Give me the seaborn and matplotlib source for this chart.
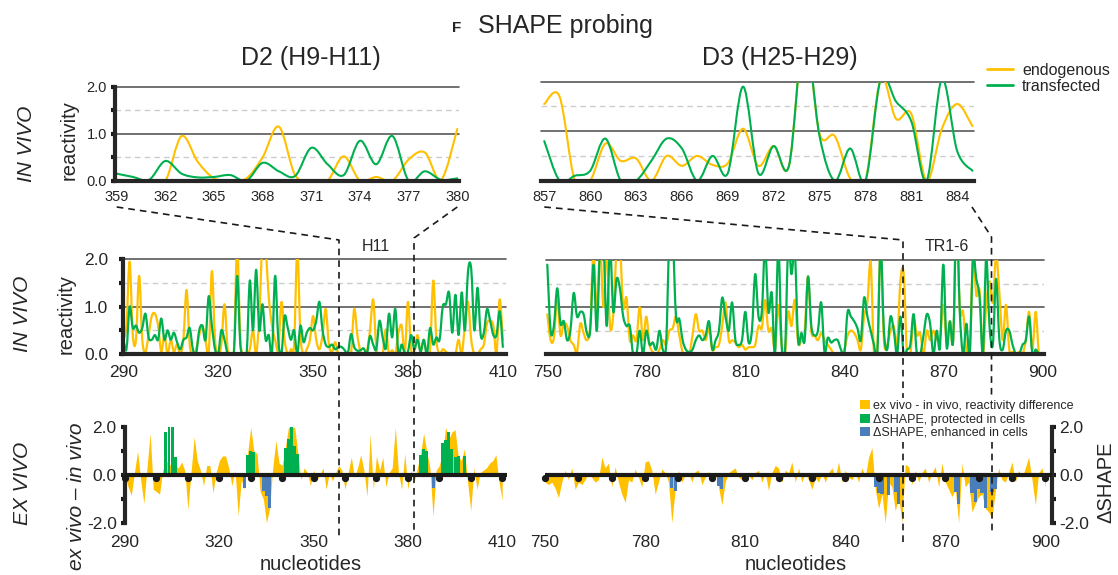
import numpy as np
import pandas as pd
import seaborn as sns
import matplotlib
matplotlib.use("Agg")
import matplotlib.pyplot as plt
from matplotlib.path import Path
from matplotlib.patches import PathPatch, Patch
from matplotlib.lines import Line2D
import matplotlib.transforms as mtrans

# ---------------- data ----------------
d2_nt = list(range(290, 411))
d2_endogenous = [
    0.3, 0.6, 1.95, 0.4, 0.3, 1.65, 0.3, 0.05, 0.4, 0.8,
    0.85, 0.6, 0.05, 0.4, 0.0, 0.3, 0.05, 0.2, 0.0, 0.3,
    1.35, 0.2, 0.0, 0.1, 0.4, 0.6, 0.3, 0.0, 1.75, 0.3,
    0.0, 0.2, 1.05, 0.1, 0.0, 0.1, 2.3, 0.3, 0.0, 0.0,
    0.1, 0.5, 0.0, 0.8, 2.4, 2.2, 1.2, 0.6, 0.3, 0.1,
    1.1, 0.3, 0.0, 0.1, 0.2, 2.2, 0.4, 0.0, 0.1, 0.3,
    0.8, 0.3, 0.1, 0.4, 0.95, 0.2, 0.05, 0.25, 0.0,
    0.02, 0.0, 0.0, 0.0, 0.95, 0.4, 0.05, 0.0, 0.05, 0.5, 1.15,
    0.12, 0.0, 0.0, 0.52, 0.0, 0.08, 0.0, 0.45, 0.6, 0.02, 1.1,
    0.1, 0.05, 0.4, 0.05, 0.3, 0.0, 0.1, 1.55, 0.3, 0.0,
    0.1, 0.05, 0.0, 0.0, 0.0, 0.3, 0.0, 0.6, 1.1, 0.3,
    0.0, 0.0, 0.1, 0.2, 0.65, 0.7, 0.6, 0.0, 1.15, 0.3,
]
d2_transfected = [
    0.3, 0.1, 1.0, 0.55, 0.6, 0.45, 0.55, 0.85, 0.35, 0.3,
    0.4, 0.3, 0.75, 0.3, 0.5, 0.3, 0.45, 0.25, 0.1, 0.3,
    0.35, 0.55, 0.1, 0.0, 0.5, 0.6, 0.3, 1.22, 0.6, 0.1,
    0.0, 0.5, 0.3, 0.0, 0.0, 0.05, 1.65, 0.2, 0.0, 0.0,
    1.55, 0.5, 1.78, 0.5, 1.05, 0.3, 0.4, 0.0, 1.65, 0.3,
    0.0, 0.8, 0.55, 0.3, 0.5, 0.0, 0.6, 0.25, 0.45, 0.55,
    0.5, 0.7, 1.1, 0.5, 0.2, 0.15, 0.2, 0.1, 0.15,
    0.15, 0.08, 0.02, 0.42, 0.15, 0.07, 0.08, 0.12, 0.0, 0.38, 0.2,
    0.1, 0.7, 0.35, 0.12, 0.85, 0.35, 0.95, 0.0, 0.2, 0.02, 0.05,
    0.4, 0.1, 0.3, 0.05, 0.3, 0.0, 0.55, 0.2, 0.35, 0.3,
    1.0, 1.05, 1.3, 0.45, 1.25, 0.4, 1.3, 0.5, 1.75, 1.8,
    0.5, 1.4, 0.4, 0.45, 0.95, 0.7, 0.4, 0.4, 0.9, 0.15,
]
d3_nt = list(range(750, 901))
d3_endogenous = [
    0.85, 0.3, 0.35, 1.15, 0.4, 0.65, 0.6, 0.3, 0.2, 0.05,
    0.65, 0.45, 0.3, 0.6, 2.2, 0.9, 2.3, 1.0, 2.2, 0.6,
    0.85, 2.2, 2.3, 1.0, 1.2, 0.3, 0.4, 0.3, 1.0, 0.3,
    0.8, 0.2, 0.05, 0.0, 0.1, 0.3, 0.2, 0.5, 0.55, 0.8,
    0.4, 0.05, 0.0, 0.0, 0.4, 0.85, 0.5, 0.5, 0.3, 0.55,
    0.1, 0.15, 0.2, 0.6, 1.1, 0.3, 0.3, 0.25, 0.15, 0.2,
    0.1, 0.15, 0.15, 0.2, 0.6, 0.55, 1.15, 0.5, 0.55, 0.1,
    1.05, 0.2, 0.0, 0.9, 0.6, 1.15, 0.25, 0.3, 0.5, 1.65,
    0.5, 0.4, 0.3, 0.45, 0.3, 0.2, 0.1, 0.0, 0.0, 0.0,
    0.1, 0.4, 0.5, 0.45, 0.3, 0.1, 0.8, 1.1, 1.95, 0.0,
    0.1, 2.3, 0.3, 0.2, 0.5, 0.6, 0.2,
    1.55, 1.7, 0.0, 0.0, 0.75, 0.4, 0.45, 0.0, 0.5, 0.3,
    0.5, 0.32, 0.35, 1.05, 0.3, 0.7, 0.3, 3.0, 0.95, 0.9,
    0.05, 0.0, 2.05, 1.25, 1.35, 0.0, 1.05, 1.55, 1.1,
    2.1, 1.3, 0.3, 1.05, 0.1, 0.05, 0.0, 0.05, 0.0, 0.3,
    0.9, 0.1, 0.9, 0.0, 0.0,
]
d3_transfected = [
    1.9, 0.5, 0.6, 1.4, 0.65, 0.7, 0.3, 0.5, 1.3, 0.8,
    0.9, 0.85, 0.45, 0.5, 1.9, 0.5, 2.3, 2.4, 0.6, 2.3,
    0.9, 1.6, 1.4, 0.8, 0.6, 0.6, 0.0, 0.0, 0.5, 0.0,
    0.5, 0.2, 0.25, 0.1, 0.5, 0.1, 0.2, 2.5, 2.5, 0.8,
    0.75, 0.3, 0.1, 0.05, 0.1, 0.3, 0.4, 0.3, 0.4, 0.7,
    0.1, 0.3, 0.5, 1.2, 0.8, 0.5, 1.1, 0.3, 0.2, 0.3,
    0.9, 0.25, 0.5, 1.7, 0.8, 0.9, 2.3, 0.9, 1.3, 0.0,
    2.3, 0.2, 0.0, 2.3, 1.7, 2.2, 0.3, 0.45, 0.3, 1.65,
    0.6, 0.4, 0.5, 1.1, 0.05, 0.35, 0.25, 0.3, 0.3, 0.1,
    0.0, 0.9, 0.8, 0.7, 0.55, 0.3, 1.2, 0.8, 0.5, 0.2,
    0.0, 2.3, 0.5, 0.1, 0.8, 0.5, 0.0,
    0.8, 0.0, 0.1, 0.2, 0.85, 0.0, 0.0, 0.4, 0.85, 0.65,
    0.0, 0.5, 0.15, 1.9, 0.15, 0.7, 0.3, 3.0, 0.9, 0.0,
    0.65, 0.0, 2.05, 1.6, 1.2, 0.0, 2.05, 0.6, 0.2,
    1.6, 0.3, 0.1, 0.5, 0.5, 0.2, 0.0, 0.0, 0.2, 0.3,
    0.8, 0.0, 0.1, 0.0, 0.0,
]
d2_diff = [
    0.0, -0.5, -0.85, 0.1, 1.0, -0.2, -1.2, 0.3, 1.75, -0.6,
    -0.7, -0.8, 0.2, 0.6, 0.5, 0.3, 0.4, 0.3, 0.55, 0.2,
    -1.45, 0.1, 1.6, 0.6, 0.2, -0.45, 0.4, 0.4, -0.75, 0.1,
    0.6, 0.8, 0.8, 0.3, -0.45, 0.2, -1.7, -0.2, -0.6, 0.9,
    2.0, 1.0, 0.9, -0.7, -1.0, -2.0, -1.4, 0.3, 1.45, 0.5,
    0.4, 1.15, 2.0, 2.0, 2.0, 0.9, -0.2, 0.3, 0.1, -0.45,
    0.2, -0.2, 0.0, 0.3, -0.6, 0.1, -0.25, 0.1, 0.4, 0.2,
    -0.6, 0.1, 0.75, -0.1, 0.3, 0.85, 0.2, -0.9, 1.7, -0.6,
    0.8, 0.2, 0.75, -0.5, 0.1, 0.3, 2.0, 0.1, -0.6, 0.9,
    -0.6, 0.2, -0.3, 0.3, 0.85, 1.75, 1.0, 0.3, -1.75, 0.2,
    0.4, 0.9, 2.0, 1.5, 1.8, 1.9, 0.8, 0.6, 1.1, -0.3,
    -1.5, 0.3, -0.6, 0.1, 0.2, 0.3, 0.5, 0.6, 0.85, -0.3, -1.05,
]
d3_diff = [
    -0.3, -0.4, -0.3, -0.55, -0.95, -0.3, 0.2, -0.2, 0.3, -0.6,
    -0.3, -0.4, -0.2, 0.1, -0.1, -0.3, -0.2, 0.75, 0.3, 0.5,
    -0.5, 0.35, -0.3, -0.8, -1.15, -0.2, -0.3, 0.25, -0.1, -0.5,
    0.55, 0.6, 0.2, -0.8, -0.3, 0.25, 0.1, -0.3, -2.0, -0.6,
    0.2, -0.3, 0.0, 0.1, -0.3, 0.15, 0.2, -0.4, -0.1, 0.15,
    -0.2, 0.1, -0.5, -1.25, -0.3, 0.1, 0.2, 0.3, -0.1, -0.2,
    0.1, 0.0, -0.2, 0.1, 0.2, -0.3, 0.1, -0.65, 0.1, 0.4,
    0.3, -0.3, 0.2, 0.1, 0.55, -0.3, 0.3, -0.3, 0.1, -0.2,
    -0.6, -0.1, -0.3, 0.1, -0.3, 0.1, 0.3, -0.1, 0.55, -0.3,
    0.2, -0.1, -0.2, 0.1, -0.3, 0.3, -0.1, 0.75, 1.15, -0.6,
    -1.4, -0.8, -2.0, -0.3, -0.5, -1.5, -0.9, -2.0, 0.45, 0.35,
    -0.4, 0.2, -0.3, 0.1, 0.3, -0.3, 0.1, 0.35, -0.5, 0.5,
    -0.3, -0.6, -0.9, -0.6, -2.0, 0.5, -0.5, -0.3, -1.55, -1.2,
    -0.9, -0.8, -1.4, -1.55, -1.8, -0.7, 0.3, -0.2, -0.3, 0.1,
    0.55, -0.3, 0.2, -0.1, 0.3, 0.75, -0.2, -1.25, 0.1, 0.3, -0.5,
]
d2_protected_nt = [303, 304, 305, 306, 329, 330, 331, 341, 342, 343, 344, 345,
                   384, 385, 386, 391, 392, 393, 394, 395, 396, 398]
d2_protected = [1.8, 2.0, 2.0, 0.75, 0.85, 1.0, 0.95, 1.15, 1.5, 2.0, 1.2, 0.9,
                0.85, 1.1, 1.0, 1.35, 1.45, 1.8, 1.1, 0.75, 0.8, 0.8]
d2_enhanced_nt = [328, 334, 335, 336, 388]
d2_enhanced = [-0.55, -0.65, -0.9, -1.4, -0.55]
d3_enhanced_nt = [788, 789, 802, 803, 849, 850, 851, 853, 855, 856,
                  873, 874, 878, 879, 880, 881, 882, 884, 885]
d3_enhanced = [-0.55, -0.65, -0.45, -0.6, -0.5, -0.75, -0.8, -0.85, -0.7, -1.2,
               -0.7, -1.2, -0.75, -1.15, -0.6, -0.75, -1.4, -0.7, -0.6]

d2_zoom = (359, 380)
d3_zoom = (857, 885)

legend_lines = ["endogenous", "transfected"]
legend_bars = ["ex vivo - in vivo, reactivity difference",
               "\u0394SHAPE, protected in cells",
               "\u0394SHAPE, enhanced in cells"]

# ---------------- style ----------------
YEL = "#FFC000"
GRN = "#00B050"
BLU = "#4A7EBB"

sns.set_theme(style="white")
plt.rcParams["font.family"] = ["Liberation Sans", "DejaVu Sans"]
plt.rcParams["axes.linewidth"] = 3

W, H = 1118, 575
fig = plt.figure(figsize=(W / 100, H / 100), dpi=100)


def fx(px):
    return px / W


def fy(py):
    return 1 - py / H


def rect(x0, x1, y_bottom, y_top):
    return [fx(x0), fy(y_bottom), (x1 - x0) / W, (y_bottom - y_top) / H]


def smooth_curve(ax, x, y, color, lw):
    x = np.asarray(x, float)
    y = np.asarray(y, float)
    n = len(x)
    verts = [(x[0], y[0])]
    codes = [Path.MOVETO]
    for i in range(n - 1):
        i0 = max(i - 1, 0)
        i3 = min(i + 2, n - 1)
        c1 = (x[i] + (x[i + 1] - x[i0]) / 6, y[i] + (y[i + 1] - y[i0]) / 6)
        c2 = (x[i + 1] - (x[i3] - x[i]) / 6, y[i + 1] - (y[i3] - y[i]) / 6)
        verts += [c1, c2, (x[i + 1], y[i + 1])]
        codes += [Path.CURVE4] * 3
    ax.add_patch(PathPatch(Path(verts, codes), facecolor="none", edgecolor=color,
                           lw=lw, joinstyle="round", capstyle="round", zorder=2))


def reactivity_grid(ax):
    for v in (1.0, 2.0):
        ax.axhline(v, color="#595959", lw=1.2, zorder=0.5, clip_on=False)
    for v in (0.5, 1.5):
        ax.axhline(v, color="#cccccc", lw=1.0, ls=(0, (4, 3)), zorder=0.5)


def react_panel(ax, nt, endo, trans, xlim, major, minor, lw, fs, left_axis, ypad):
    reactivity_grid(ax)
    smooth_curve(ax, nt, endo, YEL, lw)
    smooth_curve(ax, nt, trans, GRN, lw)
    ax.set_xlim(*xlim)
    ax.set_ylim(0, 2)
    for s in ("top", "right"):
        ax.spines[s].set_visible(False)
    ax.spines["bottom"].set_linewidth(3)
    ax.spines["bottom"].set_zorder(3)
    ax.set_xticks(major)
    ax.set_xticks(minor, minor=True)
    ax.set_xticklabels([str(v) for v in major])
    ax.tick_params(axis="x", which="both", direction="out", length=3, width=3,
                   color="k", labelsize=fs, pad=4 if fs < 11 else 5)
    if left_axis:
        ax.spines["left"].set_linewidth(3)
        ax.set_yticks([0, 1, 2])
        ax.set_yticks([0.5, 1.5], minor=True)
        ax.set_yticklabels(["0.0", "1.0", "2.0"])
        ax.tick_params(axis="y", which="both", direction="out", length=3, width=3,
                       color="k", labelsize=fs, pad=ypad, left=True)
    else:
        ax.spines["left"].set_visible(False)
        ax.tick_params(axis="y", which="both", left=False, labelleft=False)
    ax.set_xlabel("")
    ax.set_ylabel("")


# ----- top row (zoom-ins) -----
df2 = pd.DataFrame({"nt": d2_nt, "endo": d2_endogenous, "trans": d2_transfected})
df3 = pd.DataFrame({"nt": d3_nt, "endo": d3_endogenous, "trans": d3_transfected})
z2 = df2[(df2.nt >= d2_zoom[0]) & (df2.nt <= d2_zoom[1])]
z3 = df3[(df3.nt >= d3_zoom[0]) & (df3.nt <= d3_zoom[1])]

ax_tl = fig.add_axes(rect(115.1, 458.9, 180.7, 86.7))
react_panel(ax_tl, z2.nt, z2.endo, z2.trans, (358.9, 380.1),
            list(range(359, 381, 3)), list(range(359, 381)), 1.5, 10.5, True, 3)
ax_tr = fig.add_axes(rect(541.2, 974.0, 180.7, 81.7))
react_panel(ax_tr, z3.nt, z3.endo, z3.trans, (856.8, 885.1),
            list(range(857, 886, 3)), list(range(857, 886)), 1.5, 10.5, False, 3)

# ----- middle row -----
ax_ml = fig.add_axes(rect(123.3, 506.0, 354.0, 259.3))
react_panel(ax_ml, df2.nt, df2.endo, df2.trans, (290, 411),
            list(range(290, 411, 30)), list(range(290, 411, 10)), 1.6, 12.5, True, 8)
ax_mr = fig.add_axes(rect(545.65, 1043.95, 354.3, 260.0))
react_panel(ax_mr, df3.nt, df3.endo, df3.trans, (749.5, 900.5),
            list(range(750, 901, 30)), list(range(750, 901, 10)), 1.6, 12.5, False, 8)


# ----- bottom row -----
def diff_panel(ax, nt, diff, prot_nt, prot, enh_nt, enh, xlim, side):
    ax.fill_between(nt, 0, diff, color=YEL, lw=0, zorder=1)
    if prot_nt:
        sns.barplot(x=prot_nt, y=prot, native_scale=True, orient="x", color=GRN,
                    saturation=1, width=0.95, errorbar=None, linewidth=0,
                    zorder=2, ax=ax)
    if enh_nt:
        sns.barplot(x=enh_nt, y=enh, native_scale=True, orient="x", color=BLU,
                    saturation=1, width=0.95, errorbar=None, linewidth=0,
                    zorder=2, ax=ax)
    ax.axhline(0, color="k", lw=3, zorder=3, solid_capstyle="round")
    end = 901 if xlim[0] > 500 else 411
    ticks = list(range(xlim[0], end, 10))
    off = mtrans.offset_copy(ax.transData, fig=fig, x=0, y=-2.2, units="points")
    ax.plot(ticks, [0] * len(ticks), "o", ms=4.2, color="k", transform=off,
            clip_on=False, zorder=3)
    ax.set_xlim(xlim[0], xlim[1])
    ax.set_ylim(-2, 2)
    for s in ("top", "bottom", "left", "right"):
        ax.spines[s].set_visible(False)
    ax.spines[side].set_visible(True)
    ax.spines[side].set_linewidth(3)
    labels = list(range(xlim[0], end, 30))
    ax.set_xticks(labels)
    ax.set_xticklabels([str(v) for v in labels])
    ax.tick_params(axis="x", which="both", length=0, labelsize=12.5, pad=9)
    ax.set_yticks([-2, 0, 2])
    ax.set_yticks([-1, 1], minor=True)
    ax.set_yticklabels(["-2.0", "0.0", "2.0"])
    if side == "right":
        ax.yaxis.tick_right()
        ax.tick_params(axis="y", which="both", direction="out", length=3, width=3,
                       color="k", labelsize=12.5, pad=2, right=True, left=False)
    else:
        ax.tick_params(axis="y", which="both", direction="out", length=3, width=3,
                       color="k", labelsize=12.5, pad=3, left=True)
    ax.set_xlabel("")
    ax.set_ylabel("")


ax_bl = fig.add_axes(rect(125.0, 506.9, 522.7, 427.3))
diff_panel(ax_bl, d2_nt, d2_diff, d2_protected_nt, d2_protected,
           d2_enhanced_nt, d2_enhanced, (290, 411.5), "left")
ax_br = fig.add_axes(rect(545.1, 1052.0, 522.7, 427.3))
diff_panel(ax_br, d3_nt, d3_diff, [], [], d3_enhanced_nt, d3_enhanced,
           (750, 902), "right")

# ----- dashed connectors -----
dash = dict(color="#1a1a1a", lw=1.2, ls=(0, (4, 3)), zorder=4)
segments = [
    ([116.7, 339.0, 339.0], [207, 240, 537]),
    ([457.3, 414.0, 414.0], [207, 238, 532]),
    ([544.3, 903.0, 903.0], [207, 240, 398]),
    ([903.0, 903.0], [442, 545]),
    ([972.0, 991.5, 991.5], [207, 237, 398]),
    ([991.5, 991.5], [442, 532]),
]
for xs, ys in segments:
    fig.add_artist(Line2D([fx(v) for v in xs], [fy(v) for v in ys],
                          transform=fig.transFigure, **dash))

# ----- texts -----
fig.text(fx(457), fy(31.7), "F", fontsize=11, fontweight="bold", ha="center", va="baseline")
fig.text(fx(478), fy(33.3), "SHAPE probing", fontsize=18, ha="left", va="baseline")
fig.text(fx(311), fy(65), "D2 (H9-H11)", fontsize=18, ha="center", va="baseline")
fig.text(fx(780), fy(65), "D3 (H25-H29)", fontsize=18, ha="center", va="baseline")

fig.text(fx(27), fy(144), "IN VIVO", fontsize=15, style="italic", rotation=90, ha="center", va="center")
fig.text(fx(69), fy(140), "reactivity", fontsize=14.5, rotation=90, ha="center", va="center")
fig.text(fx(23), fy(314), "IN VIVO", fontsize=15, style="italic", rotation=90, ha="center", va="center")
fig.text(fx(66), fy(314), "reactivity", fontsize=14.5, rotation=90, ha="center", va="center")
fig.text(fx(22), fy(483), "EX VIVO", fontsize=15, style="italic", rotation=90, ha="center", va="center")
fig.text(fx(77), fy(496), "ex vivo \u2013 in vivo", fontsize=15, style="italic", rotation=90, ha="center", va="center")
fig.text(fx(1106), fy(482), "\u0394SHAPE", fontsize=14.5, rotation=90, ha="center", va="center")

fig.text(fx(311), fy(564), "nucleotides", fontsize=14.5, ha="center", va="center")
fig.text(fx(796), fy(564), "nucleotides", fontsize=14.5, ha="center", va="center")
fig.text(fx(376), fy(247), "H11", fontsize=11.5, ha="center", va="center")
fig.text(fx(947), fy(247), "TR1-6", fontsize=11.5, ha="center", va="center")

# ----- legends -----
fig.legend(handles=[Line2D([], [], color=YEL, lw=2), Line2D([], [], color=GRN, lw=2)],
           labels=legend_lines, loc="upper left", bbox_to_anchor=(fx(987), fy(63)),
           frameon=False, fontsize=11.5, handlelength=1.6, handletextpad=0.6,
           labelspacing=0.05, borderpad=0, borderaxespad=0)
fig.legend(handles=[Patch(facecolor=YEL, edgecolor="none"),
                    Patch(facecolor=GRN, edgecolor="none"),
                    Patch(facecolor=BLU, edgecolor="none")],
           labels=legend_bars, loc="upper left",
           bbox_to_anchor=(fx(859), fy(399)), frameon=False, fontsize=9,
           handlelength=0.75, handleheight=0.75, handletextpad=0.3,
           labelspacing=0.1, borderpad=0.1, borderaxespad=0)

fig.savefig("out.png", dpi=100)
